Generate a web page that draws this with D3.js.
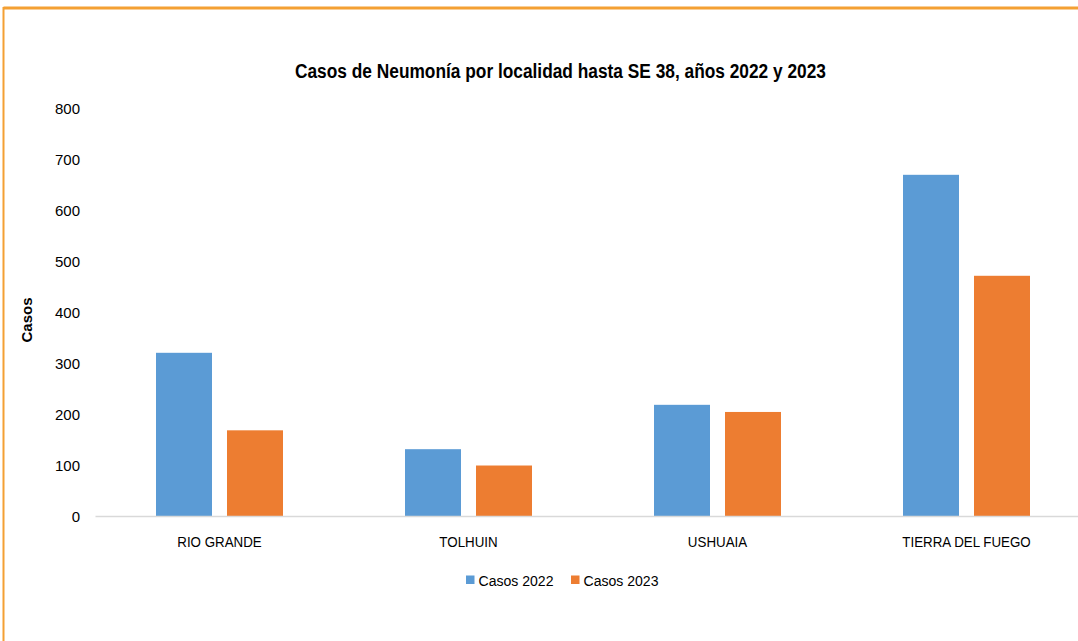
<!DOCTYPE html>
<html><head><meta charset="utf-8">
<script src="https://cdn.jsdelivr.net/npm/d3@7"></script>
<style>body{margin:0;background:#fff;}svg{display:block;}</style>
</head><body>
<script>
const categories = ["RIO GRANDE", "TOLHUIN", "USHUAIA", "TIERRA DEL FUEGO"];
const seriesNames = ["Casos 2022", "Casos 2023"];
const casos2022 = [320, 131, 218, 669];
const casos2023 = [168, 99, 204, 471];
const yTicks = [0, 100, 200, 300, 400, 500, 600, 700, 800];
const colors = ["#5B9BD5", "#ED7D31"];

const W = 1078, H = 641;
const font = "'Liberation Sans', Arial, sans-serif";
const svg = d3.select("body").append("svg").attr("width", W).attr("height", H);

// condense text to mimic a narrower face
function condense(sel, factor) {
  sel.each(function() {
    const w = this.getComputedTextLength();
    d3.select(this).attr("textLength", w * factor).attr("lengthAdjust", "spacingAndGlyphs");
  });
}

// frame
svg.append("line").attr("x1", 3.5).attr("x2", W).attr("y1", 8).attr("y2", 8)
  .attr("stroke", "#F4A033").attr("stroke-width", 3);
svg.append("line").attr("x1", 3.5).attr("x2", 3.5).attr("y1", 7).attr("y2", H)
  .attr("stroke", "#F4A033").attr("stroke-width", 2);

const x0 = d3.scaleBand().domain(categories).range([95, 1091]).paddingInner(0).paddingOuter(0);
const x1 = d3.scaleBand().domain(seriesNames).range([61, 249 - 61]).paddingInner(15 / 71);
const y = d3.scaleLinear().domain([0, 800]).range([516, 108]);

const data = categories.map((c, i) => ({cat: c, vals: [casos2022[i], casos2023[i]]}));

// y axis labels
const yAxis = d3.axisLeft(y).tickValues(yTicks).tickSize(0).tickPadding(0);
const ya = svg.append("g").attr("transform", "translate(80,0)").call(yAxis);
ya.select(".domain").remove();
ya.selectAll("text").attr("font-family", font).attr("font-size", 15).attr("fill", "#000").attr("dy", "0.35em");

// bars
const g = svg.append("g");
data.forEach(d => {
  d.vals.forEach((v, j) => {
    g.append("rect")
      .attr("x", x0(d.cat) + x1(seriesNames[j]))
      .attr("y", y(v))
      .attr("width", x1.bandwidth())
      .attr("height", y(0) - y(v))
      .attr("fill", colors[j]);
  });
});

// x axis
const xAxis = d3.axisBottom(x0).tickSize(0).tickPadding(0);
const xa = svg.append("g").attr("transform", "translate(0,516)").call(xAxis);
xa.select(".domain").attr("stroke", "#D9D9D9").attr("stroke-width", 1.5);
xa.selectAll("text").attr("font-family", font).attr("font-size", 15.5).attr("fill", "#000")
  .attr("dy", null).attr("y", 31);
condense(xa.selectAll("text"), 0.86);

// title
svg.append("text").attr("x", 560.5).attr("y", 78).attr("text-anchor", "middle")
  .attr("font-family", font).attr("font-weight", "bold").attr("font-size", 19.5).attr("fill", "#000")
  .text("Casos de Neumonía por localidad hasta SE 38, años 2022 y 2023")
  .attr("textLength", 531).attr("lengthAdjust", "spacingAndGlyphs");

// y label
svg.append("text").attr("transform", "translate(32,320) rotate(-90)").attr("text-anchor", "middle")
  .attr("font-family", font).attr("font-weight", "bold").attr("font-size", 15).attr("fill", "#000")
  .text("Casos");

// legend
const legX = [466, 571];
seriesNames.forEach((s, i) => {
  svg.append("rect").attr("x", legX[i]).attr("y", 575.5).attr("width", 8.5).attr("height", 8.5).attr("fill", colors[i]);
  svg.append("text").attr("x", legX[i] + 12.5).attr("y", 586)
    .attr("font-family", font).attr("font-size", 15.5).attr("fill", "#000").text(s)
    .attr("textLength", 75).attr("lengthAdjust", "spacingAndGlyphs");
});
</script>
</body></html>
